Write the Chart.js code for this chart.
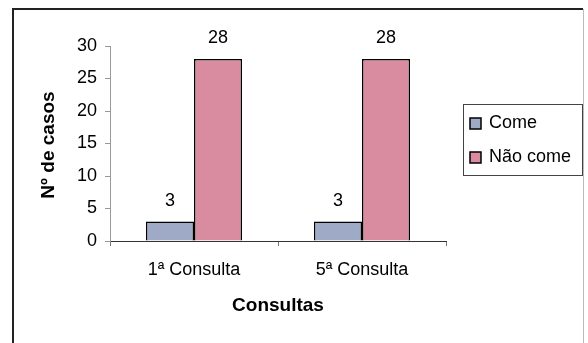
<!DOCTYPE html>
<html>
<head>
<meta charset="utf-8">
<script src="https://cdn.jsdelivr.net/npm/chart.js@4"></script>
<style>
  html, body { margin: 0; padding: 0; background: #ffffff; }
  #wrap { width: 588px; height: 343px; position: relative; }
</style>
</head>
<body>
<div id="wrap"><canvas id="c" width="588" height="343"></canvas></div>
<script>
const categories = ["1ª Consulta", "5ª Consulta"];
const seriesNames = ["Come", "Não come"];
const comeValues = [3, 3];
const naoComeValues = [28, 28];
const yTicks = [0, 5, 10, 15, 20, 25, 30];
const xTitle = "Consultas";
const yTitle = "Nº de casos";

const FONT = "Arial, 'Liberation Sans', sans-serif";

const framePlugin = {
  id: 'frame',
  beforeDraw(chart) {
    const ctx = chart.ctx;
    ctx.save();
    ctx.fillStyle = '#ffffff';
    ctx.fillRect(0, 0, chart.width, chart.height);
    ctx.strokeStyle = '#222';
    ctx.lineWidth = 2;
    ctx.beginPath();
    ctx.moveTo(13, 360); ctx.lineTo(13, 9); ctx.lineTo(583, 9);
    ctx.stroke();
    ctx.strokeStyle = '#bbb';
    ctx.lineWidth = 1;
    ctx.beginPath();
    ctx.moveTo(583.5, 9); ctx.lineTo(583.5, 360);
    ctx.stroke();
    ctx.restore();
  }
};

const labelsPlugin = {
  id: 'valueLabels',
  afterDatasetsDraw(chart) {
    const ctx = chart.ctx;
    ctx.save();
    ctx.fillStyle = '#000';
    ctx.font = '18px ' + FONT;
    ctx.textAlign = 'center';
    ctx.textBaseline = 'alphabetic';
    chart.data.datasets.forEach((ds, i) => {
      chart.getDatasetMeta(i).data.forEach((bar, j) => {
        ctx.fillText(String(ds.data[j]), bar.x, bar.y - 16);
      });
    });
    // axis titles
    ctx.font = 'bold 19px ' + FONT;
    ctx.textBaseline = 'middle';
    ctx.fillText(xTitle, (chart.chartArea.left + chart.chartArea.right) / 2, 306);
    ctx.save();
    ctx.translate(49, 145);
    ctx.rotate(-Math.PI / 2);
    ctx.fillText(yTitle, 0, 0);
    ctx.restore();
    // legend
    const lx = 463, ly = 104, lw = 119, lh = 71;
    ctx.strokeStyle = '#444';
    ctx.lineWidth = 1;
    ctx.strokeRect(lx + 0.5, ly + 0.5, lw, lh);
    ctx.font = '18px ' + FONT;
    ctx.textAlign = 'left';
    ctx.textBaseline = 'middle';
    chart.data.datasets.forEach((ds, i) => {
      const y = ly + 19 + i * 34;
      ctx.fillStyle = ds.backgroundColor;
      ctx.fillRect(lx + 7, y - 5, 11, 11);
      ctx.strokeStyle = '#000';
      ctx.lineWidth = 1.5;
      ctx.strokeRect(lx + 7, y - 5, 11, 11);
      ctx.fillStyle = '#000';
      ctx.fillText(ds.label, lx + 26, y);
    });
    ctx.restore();
  }
};

new Chart(document.getElementById('c'), {
  type: 'bar',
  data: {
    labels: categories,
    datasets: [
      { label: seriesNames[0], data: comeValues, backgroundColor: '#9eaac6', borderColor: '#000', borderWidth: 1.5 },
      { label: seriesNames[1], data: naoComeValues, backgroundColor: '#d98b9f', borderColor: '#000', borderWidth: 1.5 }
    ]
  },
  options: {
    responsive: false,
    animation: false,
    devicePixelRatio: 1,
    layout: { padding: { left: 0, right: 142, top: 46, bottom: 0 } },
    plugins: { legend: { display: false }, tooltip: { enabled: false } },
    datasets: { bar: { categoryPercentage: 0.572, barPercentage: 1.0 } },
    scales: {
      x: {
        grid: { offset: true, drawOnChartArea: false, drawTicks: true, tickLength: 5, color: '#777' },
        border: { color: '#333', width: 1 },
        ticks: { color: '#000', font: { family: FONT, size: 18 }, padding: 13 },
        afterFit(s) { s.height = 102; }
      },
      y: {
        min: 0, max: 30,
        afterBuildTicks(s) { s.ticks = yTicks.map(v => ({ value: v })); },
        grid: { drawOnChartArea: false, drawTicks: true, tickLength: 5, color: '#999' },
        border: { color: '#999', width: 1 },
        ticks: { color: '#000', font: { family: FONT, size: 18 }, padding: 8 },
        afterFit(s) { s.width = 110; }
      }
    }
  },
  plugins: [framePlugin, labelsPlugin]
});
</script>
</body>
</html>
